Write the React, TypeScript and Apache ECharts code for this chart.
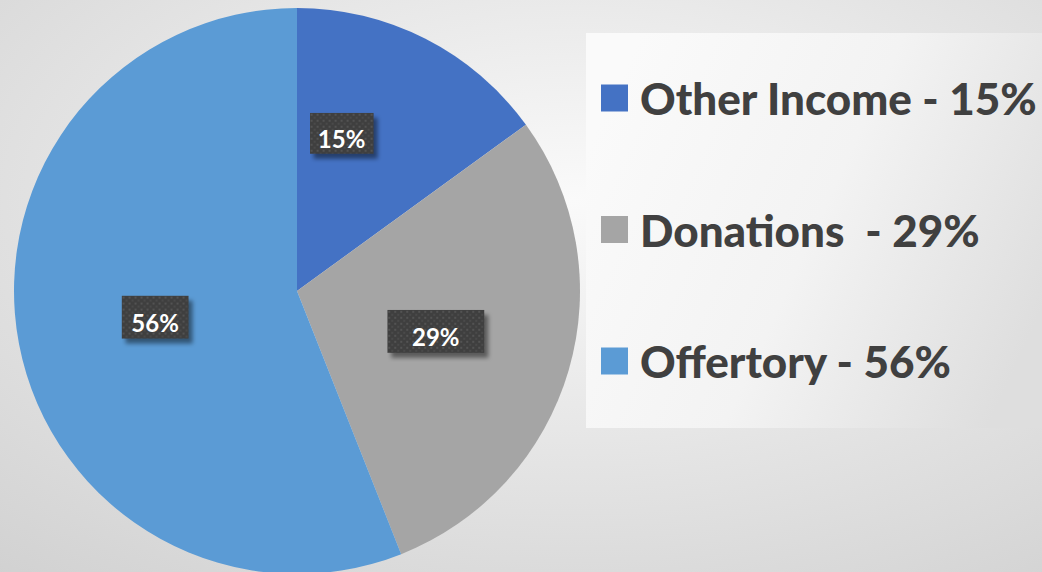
import React, { useEffect, useRef } from "react";
import * as echarts from "echarts";

const categories = ["Other Income", "Donations", "Offertory"];
const values = [15, 29, 56];
const legendLabels = ["Other Income - 15%", "Donations  - 29%", "Offertory - 56%"];
const colors = ["#4472C4", "#A5A5A5", "#5B9BD5"];

// label box styling per slice (PowerPoint-like)
const labelBoxes = [
  { w: 64, h: 41, offset: [-21, -29] },
  { w: 97, h: 43, offset: [0, 0] },
  { w: 67, h: 43, offset: [0, -1] },
];
const PAD = 10;

// dotted dark box with a soft drop shadow, drawn as the label's background image
function boxImage(w: number, h: number): string {
  const W = w + PAD;
  const H = h + PAD;
  const svg =
    `<svg xmlns="http://www.w3.org/2000/svg" width="${W}" height="${H}" viewBox="0 0 ${W} ${H}">` +
    `<defs>` +
    `<filter id="b" x="-20%" y="-20%" width="140%" height="140%"><feGaussianBlur stdDeviation="2"/></filter>` +
    `<pattern id="p" width="6" height="6" patternUnits="userSpaceOnUse">` +
    `<rect width="6" height="6" fill="#3f3f3f"/>` +
    `<rect x="1" y="1" width="2" height="2" fill="#535353"/>` +
    `<rect x="4" y="4" width="2" height="2" fill="#4a4a4a"/>` +
    `</pattern></defs>` +
    `<rect x="4" y="5" width="${w}" height="${h}" fill="rgba(0,0,0,0.45)" filter="url(#b)"/>` +
    `<rect width="${w}" height="${h}" fill="url(#p)"/></svg>`;
  return "data:image/svg+xml;charset=utf-8," + encodeURIComponent(svg);
}

export default function App() {
  const ref = useRef<HTMLDivElement>(null);
  useEffect(() => {
    document.body.style.margin = "0";
    const chart = echarts.init(ref.current!, undefined, { renderer: "svg" });
    const font = "Lato, 'Open Sans', sans-serif";
    chart.setOption({
      animation: false,
      backgroundColor: {
        type: "radial",
        x: 0.55,
        y: 0.35,
        r: 1.05,
        colorStops: [
          { offset: 0, color: "#fafafa" },
          { offset: 1, color: "#c8c8c8" },
        ],
      },
      graphic: [
        {
          type: "rect",
          z: -1,
          shape: { x: 586, y: 33, width: 456, height: 395 },
          style: {
            fill: {
              type: "linear",
              x: 0,
              y: 0.3,
              x2: 1,
              y2: 0.7,
              colorStops: [
                { offset: 0, color: "#fafafa" },
                { offset: 0.5, color: "#f3f3f3" },
                { offset: 1, color: "#dedede" },
              ],
            },
          },
        },
      ],
      legend: {
        orient: "vertical",
        left: 601,
        top: 76,
        padding: 0,
        itemWidth: 27,
        itemHeight: 27,
        itemGap: 87.5,
        icon: "rect",
        data: categories,
        formatter: (name: string) => legendLabels[categories.indexOf(name)],
        textStyle: {
          color: "#404040",
          fontFamily: font,
          fontWeight: 900,
          fontSize: 44,
          lineHeight: 44,
          padding: [0, 0, 0, 7],
        },
      },
      series: [
        {
          type: "pie",
          center: [297, 291],
          radius: 283,
          startAngle: 90,
          clockwise: true,
          labelLine: { show: false },
          emphasis: { disabled: true },
          label: {
            show: true,
            position: "inside",
            formatter: "{c}%",
            color: "#ffffff",
            fontFamily: font,
            fontWeight: "bold",
            fontSize: 24,
            align: "center",
            verticalAlign: "middle",
            padding: [0, PAD, PAD, 0],
          },
          data: categories.map((name, i) => ({
            name,
            value: values[i],
            itemStyle: { color: colors[i] },
            label: {
              width: labelBoxes[i].w,
              height: labelBoxes[i].h,
              lineHeight: labelBoxes[i].h,
              offset: [labelBoxes[i].offset[0] + PAD / 2, labelBoxes[i].offset[1] + PAD / 2],
              backgroundColor: { image: boxImage(labelBoxes[i].w, labelBoxes[i].h) },
            },
          })),
        },
      ],
    });
    return () => chart.dispose();
  }, []);
  return <div ref={ref} style={{ width: 1042, height: 572 }} />;
}
